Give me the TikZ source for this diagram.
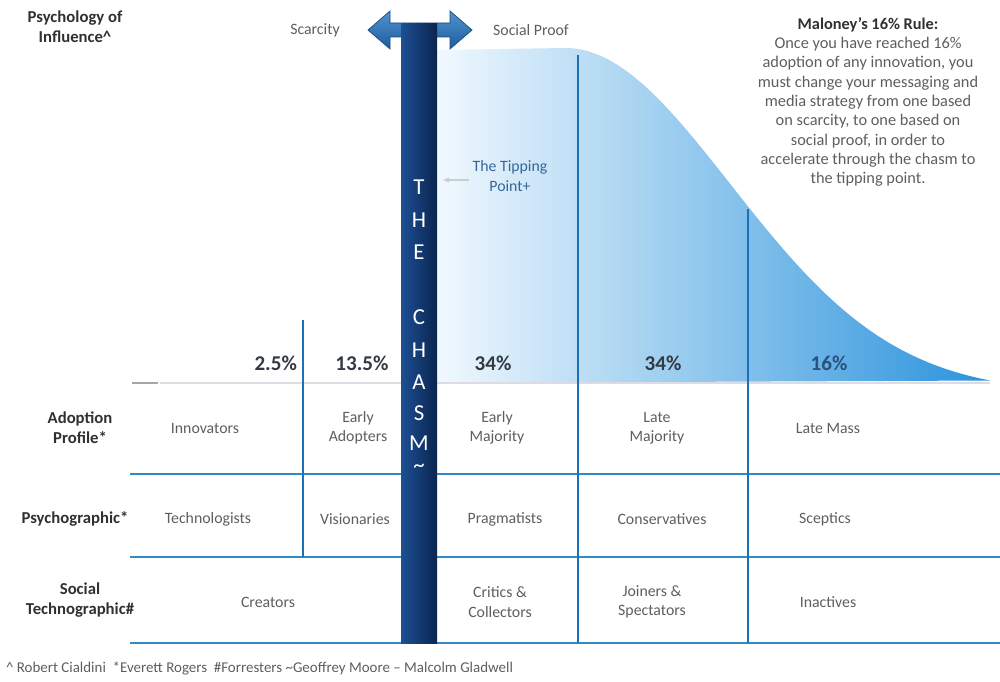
\documentclass[tikz,border=0pt]{standalone}
\usepackage{fontspec}
\setmainfont{Carlito}
\usetikzlibrary{
  calc,
  arrows, arrows.meta,
  positioning,
}
\definecolor{gridblue}{HTML}{3389C4}
\definecolor{lineblue}{HTML}{1B70B6}
\definecolor{chasmlight}{HTML}{1D4F93}
\definecolor{chasmdark}{HTML}{0A2550}
\definecolor{arrowlight}{HTML}{4F93D0}
\definecolor{arrowdark}{HTML}{1F5C9C}
\definecolor{curvea}{HTML}{F1F9FE}
\definecolor{curveb}{HTML}{B9E0F7}
\definecolor{curvec}{HTML}{2A92DC}
\definecolor{cellgray}{HTML}{5E5E5E}
\definecolor{labelgray}{HTML}{303030}
\definecolor{pctgray}{HTML}{333B42}
\definecolor{tipblue}{HTML}{35679C}
\tikzset{
  cell/.style = {align=center, text=cellgray, inner sep=1pt,
      font=\fontsize{9}{11}\selectfont},
  rowlabel/.style = {align=center, text=labelgray, inner sep=1pt,
      font=\fontsize{9.5}{11.5}\selectfont\bfseries},
  pct/.style = {text=pctgray, inner sep=1pt,
      font=\fontsize{12}{14}\selectfont\bfseries},
  gridrule/.style = {gridblue, line width=1.6pt},
  divider/.style = {lineblue, line width=1.4pt},
  chasmletter/.style = {text=white, inner sep=0pt,
      font=\fontsize{13}{13}\selectfont},
}

\begin{document}
\begin{tikzpicture}[x=0.02cm, y=-0.02cm]
  \useasboundingbox (0,0) rectangle (1000,682);

  % the adoption curve (right half of the bell)
  \shade[left color=curvea, middle color=curveb, right color=curvec]
    (436,50) -- (565,48) -- plot[domain=565:990, samples=80, variable=\x, smooth]
      ({\x}, {383 - (345*exp(-((\x-565)/165)^2/2) - 10)})
    -- (436,383) -- cycle;

  \coordinate (base l) at (160,383);
  \coordinate (base r) at (990,383);
  \draw[blue!10!gray!25, line width=0.6pt] (base l) -- (base r);
  \draw[gray!70, line width=1pt] (132,383) -- (158,383);

  % table rules
  \foreach \y in {474, 557, 643}
    \draw[gridrule] (130,\y) -- (1000,\y);

  \draw[divider] (303,320) -- (303,557);
  \draw[divider] (578,55) -- (578,643);
  \draw[divider] (748,209) -- (748,643);

  % scarcity <-> social proof arrow
  \shade[top color=arrowlight, bottom color=arrowdark, draw=arrowdark!80!black,
    line width=0.4pt]
    (368,30) -- (390,11) -- (390,23) -- (450,23) -- (450,11) -- (472,30)
    -- (450,49) -- (450,37) -- (390,37) -- (390,49) -- cycle;

  % the chasm
  \shade[left color=chasmlight, right color=chasmdark]
    (401,24) rectangle (437,643);
  \coordinate (chasm) at (419,0);
  \foreach \l/\y in {T/187, H/220, E/252, C/317, H/350, A/382, S/413, M/443}
    \node[chasmletter] at (chasm |- 0,\y) {\l};
  \node[chasmletter] at (chasm |- 0,468) {\textasciitilde};

  % top labels
  \node[rowlabel] (influence) at (75,27) {Psychology of\\Influence\textasciicircum};
  \node[cell] (scarcity) at (315,30) {Scarcity};
  \node[cell] (proof) at (531,30) {Social Proof};

  \node[cell, text=tipblue] (tipping) at (510,176) {The Tipping\\Point+};
  \coordinate (chasm edge) at (442,180);
  \draw[-{Latex[length=4pt]}, gray!40, line width=0.8pt]
    (tipping.west |- chasm edge) ++(-2,0) -- (chasm edge);

  \node[align=center, text=cellgray, font=\fontsize{9.3}{11}\selectfont]
    (rule) at (868,102) {{\bfseries\color{labelgray}Maloney's 16\% Rule:}\\
      Once you have reached 16\%\\
      adoption of any innovation, you\\
      must change your messaging and\\
      media strategy from one based\\
      on scarcity, to one based on\\
      social proof, in order to\\
      accelerate through the chasm to\\
      the tipping point.};

  % percentages
  \node[pct, anchor=east] (p1) at (299,363) {2.5\%};
  \node[pct] (p2) at (362,363) {13.5\%};
  \node[pct] (p3) at (493,363) {34\%};
  \node[pct] (p4) at (663,363) {34\%};
  \node[pct, text=tipblue!80!black] (p5) at (829,363) {16\%};

  % row labels
  \node[rowlabel] (adoption) at (80,428) {Adoption\\Profile*};
  \node[rowlabel] (psycho) at (75,519) {Psychographic*};
  \node[rowlabel] (social) at (80,600) {Social\\Technographic\#};

  % adoption profile
  \node[cell] (innov) at (205,428) {Innovators};
  \node[cell] (early ad) at (358,428) {Early\\Adopters};
  \node[cell] (early maj) at (497,428) {Early\\Majority};
  \node[cell] (late maj) at (657,428) {Late\\Majority};
  \node[cell] (late mass) at (828,428) {Late Mass};

  % psychographic
  \node[cell] (techno) at (208,519) {Technologists};
  \node[cell] (vision) at (355,519) {Visionaries};
  \node[cell] (prag) at (505,519) {Pragmatists};
  \node[cell] (conserv) at (662,519) {Conservatives};
  \node[cell] (scept) at (825,519) {Sceptics};

  % social technographic
  \node[cell] (creators) at (268,602) {Creators};
  \node[cell] (critics) at (500,602) {Critics \&\\Collectors};
  \node[cell] (joiners) at (652,602) {Joiners \&\\Spectators};
  \node[cell] (inactive) at (828,602) {Inactives};

  \node[cell, anchor=west, font=\fontsize{8.5}{10}\selectfont] (sources) at (4,668)
    {\textasciicircum\ Robert Cialdini \ *Everett Rogers \ \#Forresters
      \textasciitilde Geoffrey Moore – Malcolm Gladwell};
\end{tikzpicture}
\end{document}
